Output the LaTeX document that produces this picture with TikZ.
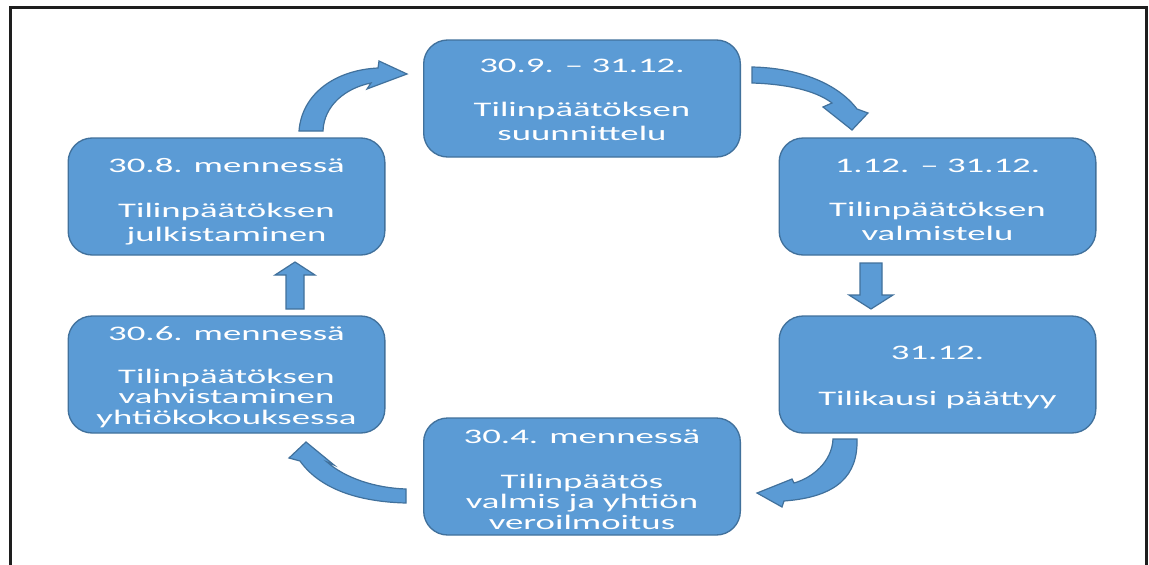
\documentclass[tikz,border=0pt]{standalone}
\usepackage{fontspec}
\setmainfont{Carlito}
\usepackage{graphicx}
\usetikzlibrary{calc}

\definecolor{boxfill}{HTML}{5B9BD5}
\definecolor{boxline}{HTML}{41719C}
\definecolor{framecol}{HTML}{1E1E1E}

% wide lettering used in the boxes
\newcommand{\widetext}[2]{\scalebox{1.78}[1]{\fontsize{15.5}{#1}\selectfont\begin{tabular}[t]{@{}c@{}}#2\end{tabular}}}

\tikzset{
  stepbox/.style={draw=boxline, line width=1pt, fill=boxfill, rounded corners=18pt,
    minimum width=237.5pt, minimum height=87.75pt, inner sep=0pt, outer sep=0pt},
  boxtext/.style={text=white, inner sep=0pt, outer sep=0pt, anchor=base},
  blockarrow/.style={fill=boxfill, draw=boxline, line width=0.9pt, line join=miter},
  framestyle/.style={draw=framecol, line width=2.25pt}
}

\begin{document}
\begin{tikzpicture}[x=0.75pt, y=-0.75pt]
  \useasboundingbox (0,0) rectangle (1149,564);
  \clip (0,0) rectangle (1149,564);
  \fill[white] (0,0) rectangle (1149,564);

  % outer frame (open at the bottom edge)
  \draw[framestyle] (10.5,580) -- (10.5,7.5) -- (1146.5,7.5) -- (1146.5,580);

  % process steps
  \node[stepbox] (b1) at (582,98.5) {};
  \node[stepbox] (b2) at (937.5,196.5) {};
  \node[stepbox] (b3) at (937.5,374.5) {};
  \node[stepbox] (b4) at (582,476.5) {};
  \node[stepbox] (b5) at (226.5,374.5) {};
  \node[stepbox] (b6) at (226.5,196.5) {};

  \node[boxtext] (t1) at ($(b1.north)+(0,32)$)
    {\widetext{18pt}{30.9. – 31.12.\\[15pt] Tilinpäätöksen\\ suunnittelu}};
  \node[boxtext] (t2) at ($(b2.north)+(0,34)$)
    {\widetext{18pt}{1.12. – 31.12.\\[15pt] Tilinpäätöksen\\ valmistelu}};
  \node[boxtext] (t3) at ($(b3.north)+(0,43)$)
    {\widetext{18pt}{31.12.\\[16.5pt] Tilikausi päättyy}};
  \node[boxtext] (t4) at ($(b4.north)+(0,25)$)
    {\widetext{15pt}{30.4. mennessä\\[18.75pt] Tilinpäätös\\ valmis ja yhtiön\\ veroilmoitus}};
  \node[boxtext] (t5) at ($(b5.north)+(0,24)$)
    {\widetext{15pt}{30.6. mennessä\\[17.25pt] Tilinpäätöksen\\ vahvistaminen\\ yhtiökokouksessa}};
  \node[boxtext] (t6) at ($(b6.north)+(0,34)$)
    {\widetext{18pt}{30.8. mennessä\\[15.75pt] Tilinpäätöksen\\ julkistaminen}};

  % curved arrow: julkistaminen -> suunnittelu
  \draw[blockarrow] (299,131) .. controls (302,93) and (336,70) .. (378,68)
    -- (379,61) -- (407,74) -- (367,89) -- (371,83)
    .. controls (346,88) and (324,105) .. (323,131) -- cycle;

  % curved arrow: suunnittelu -> valmistelu
  \draw[blockarrow] (752,67) .. controls (800,68) and (838,84) .. (857,109)
    -- (868,113) -- (852,130) -- (823,107) -- (832,103)
    .. controls (815,90) and (785,84) .. (752,83) -- cycle;

  % straight arrow: valmistelu -> tilikausi päättyy
  \draw[blockarrow] (860,263) -- (882,263) -- (882,295) -- (893,295)
    -- (871,309) -- (849,295) -- (860,295) -- cycle;

  % curved arrow: tilikausi päättyy -> tilinpäätös valmis
  \draw[blockarrow] (833,439) -- (857,439) .. controls (858,475) and (838,497) .. (784,501)
    -- (782,507) -- (757,493) -- (792,479) -- (794,483)
    .. controls (812,478) and (832,462) .. (833,439) -- cycle;

  % curved arrow: tilinpäätös valmis -> vahvistaminen
  \draw[blockarrow] (406,503) .. controls (365,502) and (322,492) .. (300,461)
    -- (289,458) -- (306,442) -- (334,465) -- (327,462)
    .. controls (345,478) and (375,488) .. (406,489) -- cycle;

  % straight arrow: vahvistaminen -> julkistaminen
  \draw[blockarrow] (286,309) -- (304,309) -- (304,275) -- (315,275)
    -- (295,262) -- (275,275) -- (286,275) -- cycle;
\end{tikzpicture}
\end{document}
